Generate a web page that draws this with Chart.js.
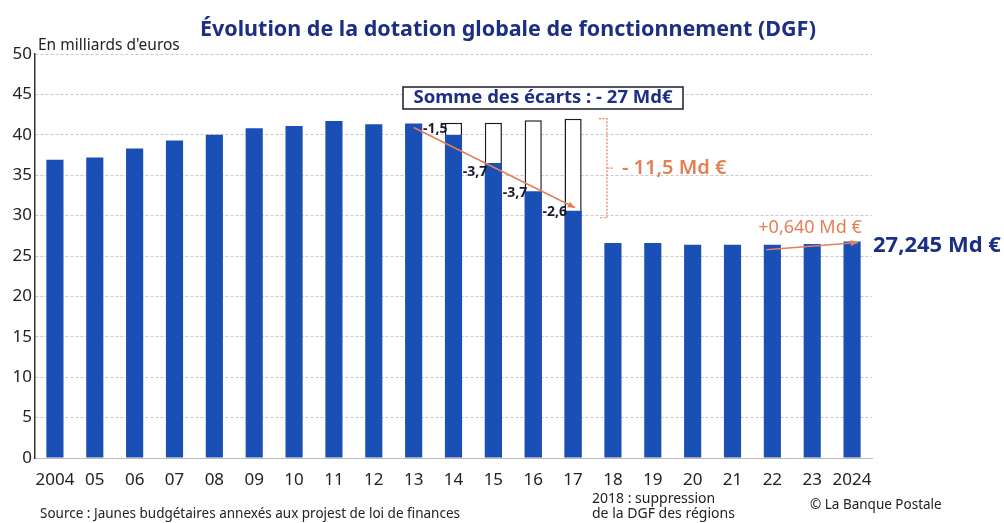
<!DOCTYPE html>
<html>
<head>
<meta charset="utf-8">
<script src="https://cdn.jsdelivr.net/npm/chart.js@4/dist/chart.umd.min.js"></script>
<style>
    html, body { margin: 0; padding: 0; background: #fff; }
    #wrap { width: 1004px; height: 523px; position: relative; }
</style>
</head>
<body>
<div id="wrap"><canvas id="dgfChart" width="1004" height="523"></canvas></div>
<script>
// Data
const years = ['2004', '05', '06', '07', '08', '09', '10', '11', '12', '13', '14',
    '15', '16', '17', '18', '19', '20', '21', '22', '23', '2024'];
const dgf = [36.9, 37.2, 38.3, 39.3, 40.0, 40.8, 41.1, 41.7, 41.3, 41.4, 40.0,
    36.5, 33.0, 30.6, 26.6, 26.6, 26.4, 26.4, 26.4, 26.5, 26.8];
const sansBaisse = [null, null, null, null, null, null, null, null, null, null, 41.5,
    41.5, 41.8, 42.0, null, null, null, null, null, null, null];
const ecartLabels = ['-1,5', '-3,7', '-3,7', '-2,6'];
const ecartIndex = [10, 11, 12, 13];

const FONT = '"Noto Sans", "Open Sans", sans-serif';
const BLUE = '#1a4fb6';
const DARK = '#1c2f82';
const ORANGE = '#e47f55';

// Arrow helper
function arrow(ctx, x1, y1, x2, y2, color) {
    ctx.save();
    ctx.strokeStyle = color;
    ctx.fillStyle = color;
    ctx.lineWidth = 1.5;
    ctx.beginPath();
    ctx.moveTo(x1, y1);
    ctx.lineTo(x2, y2);
    ctx.stroke();
    const a = Math.atan2(y2 - y1, x2 - x1);
    ctx.beginPath();
    ctx.moveTo(x2, y2);
    ctx.lineTo(x2 - 8 * Math.cos(a - 0.4), y2 - 8 * Math.sin(a - 0.4));
    ctx.lineTo(x2 - 8 * Math.cos(a + 0.4), y2 - 8 * Math.sin(a + 0.4));
    ctx.closePath();
    ctx.fill();
    ctx.restore();
}

// Texts and annotations
const annotations = {
    id: 'annotations',
    afterDatasetsDraw(chart) {
        const ctx = chart.ctx;
        const x = chart.scales.x;
        const y = chart.scales.y;
        const area = chart.chartArea;
        ctx.save();

        // Title
        ctx.fillStyle = DARK;
        ctx.font = 'bold 21.5px ' + FONT;
        ctx.textAlign = 'center';
        ctx.textBaseline = 'middle';
        ctx.fillText('Évolution de la dotation globale de fonctionnement (DGF)', 508, 30);

        // Unit
        ctx.fillStyle = '#222';
        ctx.font = '15.5px ' + FONT;
        ctx.textAlign = 'left';
        ctx.fillText("En milliards d'euros", area.left + 3, 46);

        // Decline arrow 2013 -> 2017
        arrow(ctx, x.getPixelForValue(9), y.getPixelForValue(dgf[9]) + 4,
            x.getPixelForValue(13) + 2, y.getPixelForValue(dgf[13]) - 3, ORANGE);

        // Yearly gaps
        ctx.fillStyle = '#1a1a2e';
        ctx.font = 'bold 14px ' + FONT;
        ctx.textAlign = 'right';
        const tops = [129, 172, 193, 212];
        ecartIndex.forEach((i, k) => {
            const px = x.getPixelForValue(i) - 6;
            ctx.fillText(ecartLabels[k], px, tops[k]);
        });

        // Sum box
        ctx.fillStyle = '#fff';
        ctx.fillRect(403, 87, 280, 22);
        ctx.strokeStyle = '#1a1a2e';
        ctx.lineWidth = 1.5;
        ctx.strokeRect(403, 87, 280, 22);
        ctx.fillStyle = DARK;
        ctx.font = 'bold 18.5px ' + FONT;
        ctx.textAlign = 'center';
        ctx.fillText('Somme des écarts : - 27 Md€', 543, 98);

        // Bracket
        const bx = 607;
        const bTop = y.getPixelForValue(sansBaisse[13]);
        const bBot = y.getPixelForValue(dgf[13]) + 7;
        ctx.strokeStyle = ORANGE;
        ctx.lineWidth = 1.2;
        ctx.setLineDash([2, 1.5]);
        ctx.beginPath();
        ctx.moveTo(bx - 8, bTop);
        ctx.lineTo(bx, bTop);
        ctx.lineTo(bx, bBot);
        ctx.lineTo(bx - 8, bBot);
        ctx.moveTo(bx, (bTop + bBot) / 2);
        ctx.lineTo(bx + 6, (bTop + bBot) / 2);
        ctx.stroke();
        ctx.setLineDash([]);

        ctx.fillStyle = ORANGE;
        ctx.font = '600 20px ' + FONT;
        ctx.textAlign = 'left';
        ctx.fillText('- 11,5 Md €', 622, (bTop + bBot) / 2);

        // Recent increase
        arrow(ctx, x.getPixelForValue(18) - 6, y.getPixelForValue(dgf[18]) + 5,
            x.getPixelForValue(20) + 6, y.getPixelForValue(dgf[20]) + 1, ORANGE);
        ctx.fillStyle = ORANGE;
        ctx.font = '18px ' + FONT;
        ctx.textAlign = 'center';
        ctx.fillText('+0,640 Md €', 810, 228);

        ctx.fillStyle = DARK;
        ctx.font = 'bold 22px ' + FONT;
        ctx.textAlign = 'left';
        ctx.fillText('27,245 Md €', 873, 246);

        // Footer
        ctx.fillStyle = '#222';
        ctx.font = '13.5px ' + FONT;
        ctx.fillText('Source : Jaunes budgétaires annexés aux projest de loi de finances', 40, 514);
        ctx.font = '14px ' + FONT;
        ctx.fillText('2018 : suppression', 592, 499);
        ctx.fillText('de la DGF des régions', 592, 514);
        ctx.font = '13.5px ' + FONT;
        ctx.fillText('© La Banque Postale', 810, 505);

        ctx.restore();
    }
};

new Chart(document.getElementById('dgfChart').getContext('2d'), {
    type: 'bar',
    data: {
        labels: years,
        datasets: [
            {
                label: 'DGF',
                data: dgf,
                backgroundColor: BLUE,
                borderWidth: 0,
                barPercentage: 0.43,
                categoryPercentage: 1,
                grouped: false,
                order: 1
            },
            {
                label: 'Sans baisse',
                data: sansBaisse,
                backgroundColor: '#fff',
                borderColor: '#1a1a2e',
                borderWidth: 1.5,
                barPercentage: 0.43,
                categoryPercentage: 1,
                grouped: false,
                order: 2
            }
        ]
    },
    options: {
        responsive: false,
        animation: false,
        layout: {
            padding: { top: 54, right: 132, left: 0, bottom: 0 }
        },
        plugins: {
            legend: { display: false },
            tooltip: { enabled: false }
        },
        scales: {
            x: {
                grid: { display: false },
                border: { color: '#bbb', width: 1 },
                ticks: {
                    color: '#222',
                    font: { family: FONT, size: 17 },
                    padding: 4,
                    maxRotation: 0,
                    autoSkip: false
                },
                afterFit: s => { s.height = 65; }
            },
            y: {
                min: 0,
                max: 50,
                ticks: {
                    stepSize: 5,
                    color: '#222',
                    font: { family: FONT, size: 17 },
                    padding: 3
                },
                grid: {
                    color: '#c8c8c8',
                    drawTicks: false
                },
                border: { color: '#333', width: 1.5, dash: [3, 2] },
                afterFit: s => { s.width = 35; }
            }
        }
    },
    plugins: [annotations]
});
</script>
</body>
</html>
